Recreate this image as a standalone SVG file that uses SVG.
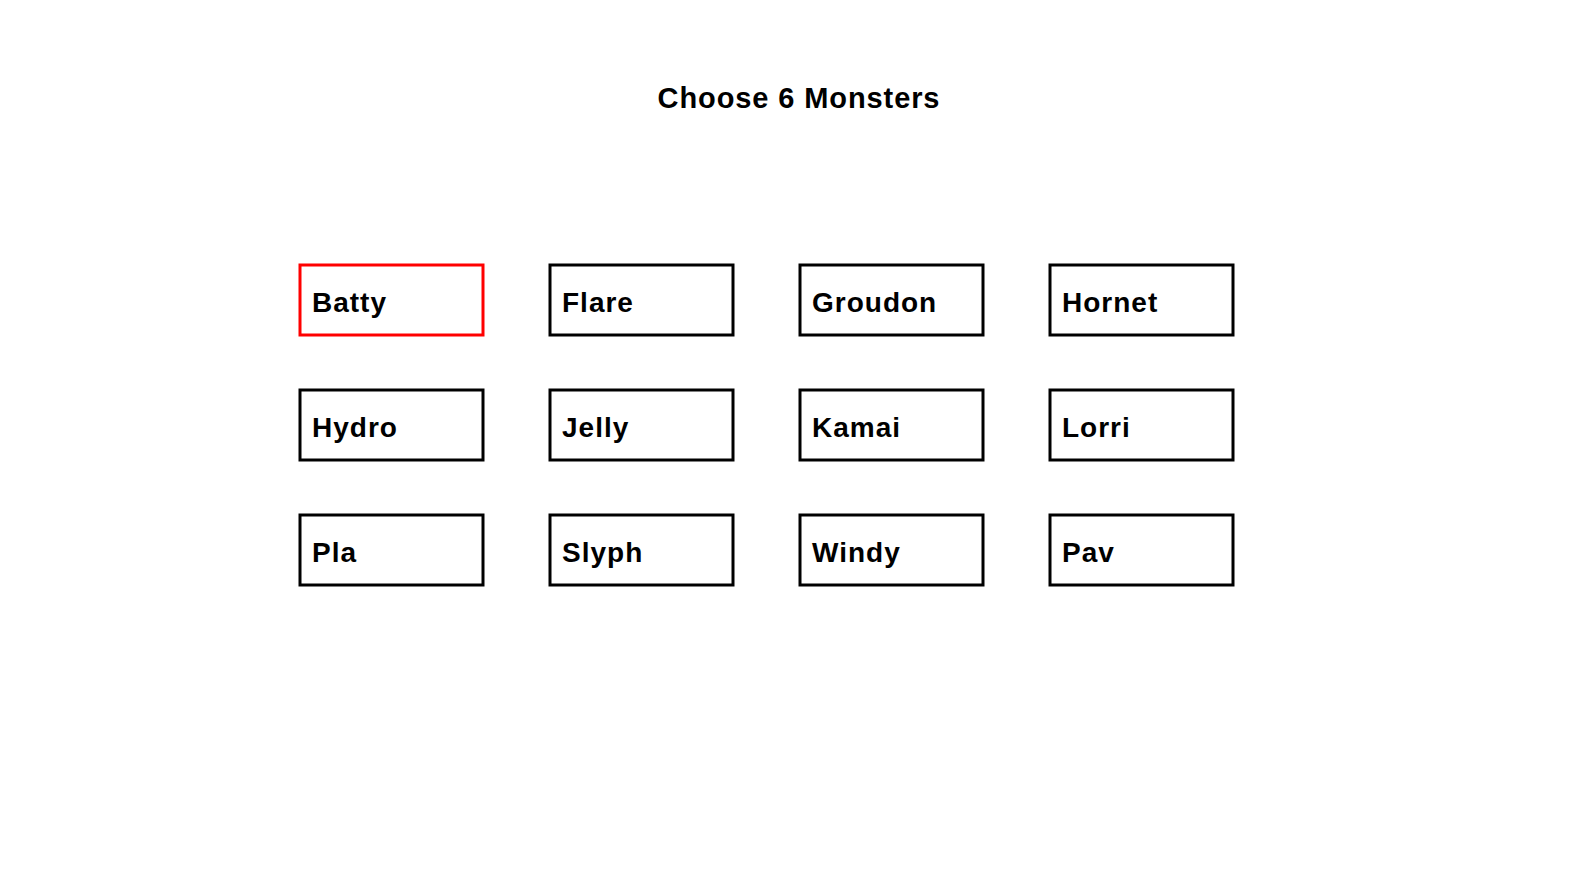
<svg xmlns="http://www.w3.org/2000/svg" width="1594" height="896" viewBox="0 0 1594 896">
<style>
.box{fill:#ffffff;stroke:#000000;stroke-width:3}
.sel{stroke:#ff0000}
.lbl{font-family:"Liberation Sans",Arial,sans-serif;font-weight:bold;font-size:28px;letter-spacing:1px;fill:#000000}
.title{font-family:"Liberation Sans",Arial,sans-serif;font-weight:bold;font-size:29px;letter-spacing:0.9px;fill:#000000}
</style>
<rect width="1594" height="896" fill="#ffffff"/>
<text class="title" x="799" y="108" text-anchor="middle">Choose 6 Monsters</text>
<g id="connectors"></g>
<g id="node-batty"><rect class="box sel" x="300" y="265" width="183" height="70"/><text class="lbl" x="312" y="312">Batty</text></g>
<g id="node-flare"><rect class="box" x="550" y="265" width="183" height="70"/><text class="lbl" x="562" y="312">Flare</text></g>
<g id="node-groudon"><rect class="box" x="800" y="265" width="183" height="70"/><text class="lbl" x="812" y="312">Groudon</text></g>
<g id="node-hornet"><rect class="box" x="1050" y="265" width="183" height="70"/><text class="lbl" x="1062" y="312">Hornet</text></g>
<g id="node-hydro"><rect class="box" x="300" y="390" width="183" height="70"/><text class="lbl" x="312" y="437">Hydro</text></g>
<g id="node-jelly"><rect class="box" x="550" y="390" width="183" height="70"/><text class="lbl" x="562" y="437">Jelly</text></g>
<g id="node-kamai"><rect class="box" x="800" y="390" width="183" height="70"/><text class="lbl" x="812" y="437">Kamai</text></g>
<g id="node-lorri"><rect class="box" x="1050" y="390" width="183" height="70"/><text class="lbl" x="1062" y="437">Lorri</text></g>
<g id="node-pla"><rect class="box" x="300" y="515" width="183" height="70"/><text class="lbl" x="312" y="562">Pla</text></g>
<g id="node-slyph"><rect class="box" x="550" y="515" width="183" height="70"/><text class="lbl" x="562" y="562">Slyph</text></g>
<g id="node-windy"><rect class="box" x="800" y="515" width="183" height="70"/><text class="lbl" x="812" y="562">Windy</text></g>
<g id="node-pav"><rect class="box" x="1050" y="515" width="183" height="70"/><text class="lbl" x="1062" y="562">Pav</text></g>
</svg>
